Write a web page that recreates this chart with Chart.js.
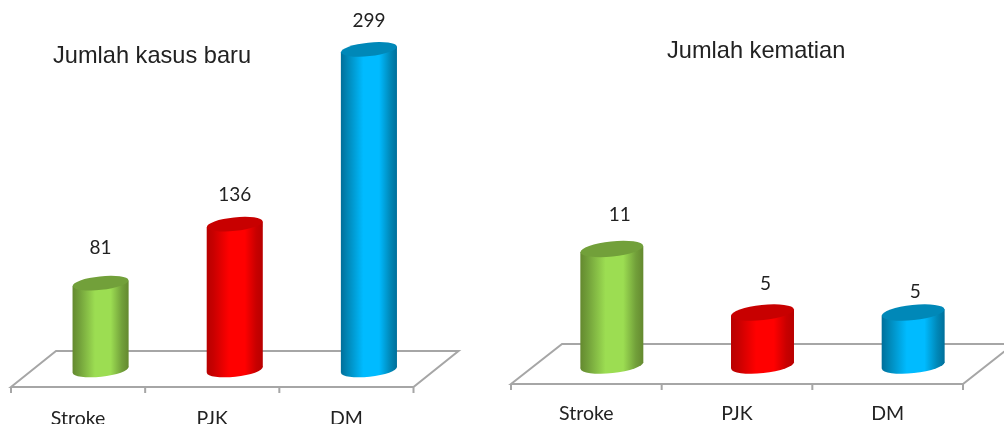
<!DOCTYPE html>
<html>
<head>
<meta charset="utf-8">
<title>Jumlah kasus baru dan kematian</title>
<script src="https://cdn.jsdelivr.net/npm/chart.js@4"></script>
<style>
  html, body { margin: 0; padding: 0; background: #fff; overflow: hidden; }
  #wrap { position: relative; width: 1004px; height: 424px; }
  canvas { position: absolute; top: 0; }
  #kasus { left: 0; }
  #kematian { left: 500px; }
</style>
</head>
<body>
<div id="wrap">
  <canvas id="kasus" width="500" height="424"></canvas>
  <canvas id="kematian" width="504" height="424"></canvas>
</div>
<script>
const categories = ['Stroke', 'PJK', 'DM'];
const kasusBaru = [81, 136, 299];
const kematian = [11, 5, 5];

// side, middle and top-cap shade of each cylinder
const sideColors = ['#64892f', '#b80000', '#006f9a'];
const midColors = ['#9cdd52', '#ff0000', '#00bbff'];
const capColors = ['#72a03a', '#c80000', '#0088b8'];

// Floor, cylinders, titles and value labels
const cylinderPlugin = {
  id: 'cylinders',
  beforeDatasetDraw(chart, args, opts) {
    const { ctx, scales: { x } } = chart;
    const band = x.width / categories.length;
    const base = x.top;
    const frontY = base + opts.front;
    const backY = base - opts.back;

    ctx.save();
    ctx.strokeStyle = '#a6a6a6';
    ctx.lineWidth = 2;
    ctx.beginPath();
    ctx.moveTo(x.left - opts.skew, frontY);
    ctx.lineTo(x.left + opts.skew, backY);
    ctx.lineTo(x.right + opts.skew, backY);
    ctx.lineTo(x.right - opts.skew, frontY);
    ctx.closePath();
    for (let i = 0; i <= categories.length; i++) {
      const tx = x.left - opts.skew + i * band;
      ctx.moveTo(tx, frontY);
      ctx.lineTo(tx, frontY + opts.tick);
    }
    ctx.stroke();

    args.meta.data.forEach((bar, i) => {
      const p = bar.getProps(['x', 'y', 'base', 'width'], true);
      const r = p.width / 2;
      const minor = r * 0.24;
      const tilt = -6 * Math.PI / 180;
      // the tangent points of a tilted ellipse sit off its centre line
      const off = (r * r - minor * minor) * Math.sin(-tilt) * Math.cos(tilt) / r;

      const grad = ctx.createLinearGradient(p.x - r, 0, p.x + r, 0);
      grad.addColorStop(0, sideColors[i]);
      grad.addColorStop(0.12, capColors[i]);
      grad.addColorStop(0.4, midColors[i]);
      grad.addColorStop(0.68, midColors[i]);
      grad.addColorStop(0.88, capColors[i]);
      grad.addColorStop(1, sideColors[i]);

      ctx.fillStyle = grad;
      ctx.beginPath();
      ctx.ellipse(p.x, p.base, r, minor, tilt, 0, Math.PI * 2);
      ctx.fill();
      ctx.beginPath();
      ctx.moveTo(p.x - r, p.y + off);
      ctx.lineTo(p.x + r, p.y - off);
      ctx.lineTo(p.x + r, p.base - off);
      ctx.lineTo(p.x - r, p.base + off);
      ctx.closePath();
      ctx.fill();

      ctx.fillStyle = capColors[i];
      ctx.beginPath();
      ctx.ellipse(p.x, p.y, r, minor, tilt, 0, Math.PI * 2);
      ctx.fill();

      ctx.fillStyle = '#222';
      ctx.font = '19px Lato';
      ctx.textAlign = 'center';
      ctx.textBaseline = 'middle';
      const [nx, ny] = opts.nudge[i];
      ctx.fillText(chart.data.datasets[0].data[i], p.x + nx, p.y - ny);
    });

    ctx.fillStyle = '#222';
    ctx.font = '23.6px "Liberation Sans"';
    ctx.textAlign = 'left';
    ctx.textBaseline = 'middle';
    ctx.fillText(opts.title, opts.titleX, opts.titleY);
    ctx.restore();
    return false;
  }
};

function drawPanel(id, values, yMax, axisH, padLeft, padRight, labelPad, cyl) {
  new Chart(document.getElementById(id), {
    type: 'bar',
    data: {
      labels: categories,
      datasets: [{
        data: values,
        backgroundColor: midColors,
        barPercentage: 0.418,
        categoryPercentage: 1
      }]
    },
    options: {
      responsive: false,
      animation: false,
      layout: { padding: { left: padLeft, right: padRight, top: 0, bottom: 0 } },
      plugins: { legend: { display: false }, tooltip: { enabled: false }, cylinders: cyl },
      scales: {
        y: { display: false, min: 0, max: yMax },
        x: {
          afterFit: s => { s.height = axisH; },
          grid: { display: false },
          border: { display: false },
          ticks: {
            color: '#222',
            font: { family: 'Lato', size: 19.5 },
            padding: labelPad,
            labelOffset: -cyl.skew,
            maxRotation: 0,
            autoSkip: false
          }
        }
      }
    },
    plugins: [cylinderPlugin]
  });
}

drawPanel('kasus', kasusBaru, 345, 54, 33.5, 64, 29, {
  title: 'Jumlah kasus baru', titleX: 53, titleY: 56,
  skew: 22.5, front: 17, back: 19, tick: 6,
  nudge: [[0, 35], [0, 29], [0, 28]]
});
drawPanel('kematian', kematian, 34.5, 58.5, 36.5, 15.5, 28.5, {
  title: 'Jumlah kematian', titleX: 167, titleY: 51,
  skew: 25.5, front: 18.5, back: 21.5, tick: 6,
  nudge: [[8, 34], [3, 29], [2, 21]]
});
</script>
</body>
</html>
